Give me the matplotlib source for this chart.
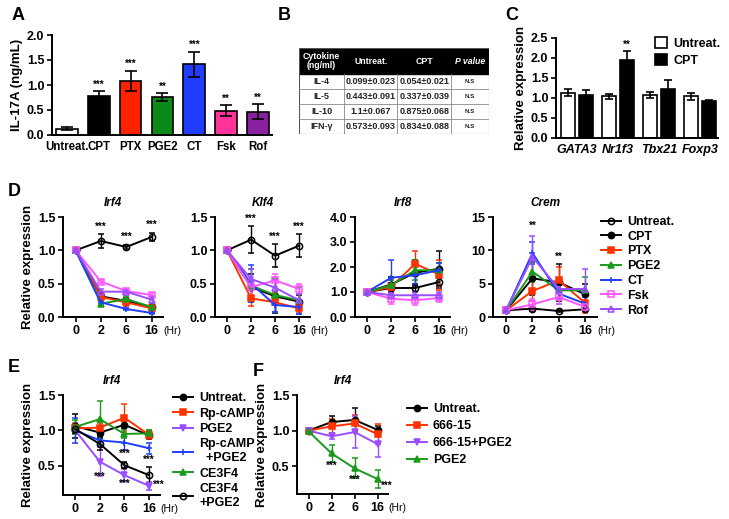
import numpy as np
import matplotlib
matplotlib.use('Agg')
import matplotlib.pyplot as plt
from matplotlib.lines import Line2D
from matplotlib.patches import Rectangle

plt.rcParams['font.family'] = ['Liberation Sans', 'DejaVu Sans']
plt.rcParams['font.weight'] = 'bold'
plt.rcParams['axes.labelweight'] = 'bold'
plt.rcParams['axes.titleweight'] = 'bold'
plt.rcParams['axes.linewidth'] = 1.4
plt.rcParams['xtick.major.width'] = 1.2
plt.rcParams['ytick.major.width'] = 1.2
plt.rcParams['xtick.major.size'] = 3.5
plt.rcParams['ytick.major.size'] = 3.5

W, H = 729, 519

# ---- panel A data
a_groups = ['Untreat.', 'CPT', 'PTX', 'PGE2', 'CT', 'Fsk', 'Rof']
a_mean = [0.12, 0.78, 1.08, 0.75, 1.41, 0.48, 0.46]
a_err = [0.03, 0.09, 0.20, 0.08, 0.25, 0.11, 0.15]
a_stars = ['', '***', '***', '**', '***', '**', '**']
a_colors = ['white', 'black', '#ff2200', '#0b8a1a', '#1f3cff', '#ff3399', '#8a1fa0']

# ---- panel B table
b_header = ['Cytokine\n(ng/ml)', 'Untreat.', 'CPT', 'P value']
b_cyto = ['IL-4', 'IL-5', 'IL-10', 'IFN-γ']
b_untreat = ['0.099±0.023', '0.443±0.091', '1.1±0.067', '0.573±0.093']
b_cpt = ['0.054±0.021', '0.337±0.039', '0.875±0.068', '0.834±0.088']
b_p = ['N.S', 'N.S', 'N.S', 'N.S']

# ---- panel C data
c_genes = ['GATA3', 'Nr1f3', 'Tbx21', 'Foxp3']
c_untreat = [1.13, 1.04, 1.07, 1.04]
c_untreat_err = [0.09, 0.07, 0.07, 0.08]
c_cpt = [1.08, 1.95, 1.22, 0.92]
c_cpt_err = [0.11, 0.22, 0.24, 0.04]

# ---- panel D data (time course)
hours = ['0', '2', '6', '16']
d_groups = ['Untreat.', 'CPT', 'PTX', 'PGE2', 'CT', 'Fsk', 'Rof']
d_colors = ['black', 'black', '#ff3300', '#1a9a1a', '#1f3fff', '#ff55ff', '#9a4dff']
d_markers = ['o', 'o', 's', '^', '+', 's', '^']
d_filled = [False, True, True, True, True, False, False]

irf4_mean = [[1, 1.14, 1.05, 1.20], [1, 0.31, 0.24, 0.15], [1, 0.30, 0.22, 0.13],
             [1, 0.20, 0.27, 0.15], [1, 0.22, 0.12, 0.06], [1, 0.53, 0.39, 0.33],
             [1, 0.38, 0.38, 0.26]]
irf4_err = [[0, 0.10, 0.03, 0.06], [0, 0.05, 0.05, 0.06], [0, 0.04, 0.05, 0.05],
            [0, 0.04, 0.05, 0.04], [0, 0.03, 0.02, 0.02], [0, 0.02, 0.03, 0.03],
            [0, 0.04, 0.03, 0.05]]
klf4_mean = [[1, 1.16, 0.92, 1.07], [1, 0.45, 0.31, 0.23], [1, 0.28, 0.22, 0.13],
             [1, 0.47, 0.33, 0.25], [1, 0.50, 0.18, 0.15], [1, 0.45, 0.55, 0.42],
             [1, 0.57, 0.44, 0.25]]
klf4_err = [[0, 0.20, 0.17, 0.17], [0, 0.20, 0.25, 0.10], [0, 0.12, 0.15, 0.05],
            [0, 0.25, 0.25, 0.20], [0, 0.28, 0.10, 0.10], [0, 0.15, 0.10, 0.08],
            [0, 0.15, 0.12, 0.10]]
irf8_mean = [[1, 1.16, 1.16, 1.40], [1, 1.30, 1.77, 1.93], [1, 1.20, 2.13, 1.70],
             [1, 1.27, 1.87, 1.87], [1, 1.57, 1.67, 1.87], [1, 0.73, 0.67, 0.76],
             [1, 0.87, 0.87, 0.87]]
irf8_err = [[0, 0.20, 0.15, 0.25], [0, 0.30, 0.50, 0.70], [0, 0.30, 0.50, 0.60],
            [0, 0.20, 0.40, 0.30], [0, 0.70, 0.40, 0.30], [0, 0.20, 0.20, 0.15],
            [0, 0.15, 0.15, 0.15]]
crem_mean = [[1, 1.26, 0.90, 1.15], [1, 5.8, 5.2, 3.4], [1, 3.9, 5.5, 2.1],
             [1, 6.8, 4.0, 4.0], [1, 9.6, 3.5, 2.0], [1, 1.9, 3.0, 1.5],
             [1, 9.0, 4.2, 4.2]]
crem_err = [[0.1, 0.3, 0.2, 0.3], [0.1, 2.5, 2.8, 1.5], [0.1, 1.5, 2.0, 1.5],
            [0.1, 1.5, 1.5, 2.0], [0.1, 1.7, 1.5, 1.0], [0.1, 0.8, 1.0, 0.5],
            [0.1, 3.2, 1.5, 3.0]]

# ---- panel E data
e_groups = ['Untreat.', 'Rp-cAMP', 'PGE2', 'Rp-cAMP\n  +PGE2', 'CE3F4', 'CE3F4\n+PGE2']
e_colors = ['black', '#ff3300', '#9a4dff', '#1f3fff', '#1a9a1a', 'black']
e_markers = ['o', 's', 'v', '+', '^', 'o']
e_filled = [True, True, True, True, True, False]
e_mean = [[1.06, 0.97, 1.08, 0.93], [1.03, 1.04, 1.18, 0.94], [1.00, 0.56, 0.37, 0.22],
          [1.00, 0.86, 0.83, 0.75], [1.05, 1.16, 0.95, 0.96], [1.02, 0.81, 0.51, 0.37]]
e_err = [[0.17, 0.05, 0.05, 0.05], [0.08, 0.06, 0.20, 0.06], [0.05, 0.20, 0.08, 0.06],
         [0.17, 0.06, 0.10, 0.08], [0.10, 0.25, 0.05, 0.05], [0.05, 0.08, 0.04, 0.12]]

# ---- panel F data
f_groups = ['Untreat.', '666-15', '666-15+PGE2', 'PGE2']
f_colors = ['black', '#ff3300', '#9a4dff', '#1a9a1a']
f_markers = ['o', 's', 'v', '^']
f_mean = [[1.00, 1.12, 1.15, 1.01], [1.00, 1.06, 1.10, 0.95],
          [1.00, 0.92, 0.98, 0.81], [0.99, 0.68, 0.47, 0.32]]
f_err = [[0.02, 0.08, 0.17, 0.05], [0.02, 0.10, 0.12, 0.14],
         [0.02, 0.04, 0.22, 0.18], [0.02, 0.12, 0.14, 0.13]]

fig = plt.figure(figsize=(W / 100, H / 100), dpi=100)


def px_axes(x0, x1, ytop, ybot):
    return fig.add_axes([x0 / W, 1 - ybot / H, (x1 - x0) / W, (ybot - ytop) / H])


def clean(ax):
    ax.spines['top'].set_visible(False)
    ax.spines['right'].set_visible(False)
    ax.tick_params(labelsize=9, pad=2)


def time_course(ax, means, errs, colors, markers, filled, labels):
    x = np.arange(4)
    handles = []
    for m, e, c, mk, f, lab in zip(means, errs, colors, markers, filled, labels):
        fc = c if f else 'none'
        ax.errorbar(x, m, yerr=e, color=c, marker=mk, markersize=4.5,
                    mfc=fc, mec=c, mew=1.1, lw=1.4,
                    capsize=2.5, elinewidth=1, capthick=1)
        handles.append(Line2D([], [], color=c, marker=mk, markersize=4.5, mfc=fc,
                              mec=c, mew=1.1, lw=1.4, label=lab))
    ax.set_xticks(x)
    ax.set_xticklabels(hours)
    ax.set_xlim(-0.5, 3.45)
    return handles


def hr_label(ax):
    ax.text(1.0, -0.09, '(Hr)', transform=ax.transAxes, fontsize=7.5,
            fontweight='normal', ha='left', va='top')


# ---------------- A
ax = px_axes(52, 272, 35, 135)
clean(ax)
xa = np.arange(len(a_groups))
ax.bar(xa, a_mean, width=0.68, color=a_colors, edgecolor='black', linewidth=1.2,
       yerr=a_err, error_kw=dict(capsize=4, elinewidth=1.2, capthick=1.2), zorder=2)
for i, s in enumerate(a_stars):
    if s:
        ax.text(i, a_mean[i] + a_err[i] + 0.04, s, ha='center', va='bottom', fontsize=7)
ax.set_xlim(-0.47, 6.44)
ax.set_ylim(0, 2.0)
ax.set_yticks([0, 0.5, 1.0, 1.5, 2.0])
ax.set_yticklabels(['0.0', '0.5', '1.0', '1.5', '2.0'])
ax.set_xticks(xa)
ax.set_xticklabels(a_groups, fontsize=8.3)
ax.tick_params(axis='x', length=0, pad=4)
ax.set_ylabel('IL-17A (ng/mL)', fontsize=9.5, labelpad=3)
fig.text(12 / W, 1 - 16 / H, 'A', fontsize=13, va='center')

# ---------------- B table
tb = px_axes(299, 489, 48, 134)
tb.set_xlim(0, 1)
tb.set_ylim(0, 1)
tb.axis('off')
cols = [0, 45 / 190, 98.4 / 190, 152.4 / 190, 1]
head_h = 26 / 86
row_h = (1 - head_h) / 4
tb.add_patch(Rectangle((0, 1 - head_h), 1, head_h, color='black'))
tb.add_patch(Rectangle((0, 0), 1, 1, fill=False, edgecolor='#555555', lw=0.8))
for k in range(1, 4):
    tb.plot([cols[k], cols[k]], [0, 1 - head_h], color='#888888', lw=0.6)
for r in range(1, 4):
    tb.plot([0, 1], [r * row_h, r * row_h], color='#888888', lw=0.6)
for k, h in enumerate(b_header):
    style = 'italic' if h == 'P value' else 'normal'
    tb.text((cols[k] + cols[k + 1]) / 2, 1 - head_h / 2, h, color='white',
            ha='center', va='center', fontsize=6.3, style=style, linespacing=1.1)
for r in range(4):
    yc = 1 - head_h - (r + 0.5) * row_h
    for k, val in enumerate([b_cyto[r], b_untreat[r], b_cpt[r], b_p[r]]):
        tb.text((cols[k] + cols[k + 1]) / 2, yc, val, ha='center', va='center',
                fontsize=4.5 if k == 3 else 6.5, color='#222222')
fig.text(278 / W, 1 - 16 / H, 'B', fontsize=13, va='center')

# ---------------- C
ax = px_axes(556, 718, 38, 138)
clean(ax)
xc = np.arange(len(c_genes))
ax.bar(xc - 0.22, c_untreat, width=0.34, color='white', edgecolor='black', lw=1.2,
       yerr=c_untreat_err, error_kw=dict(capsize=3, elinewidth=1.2, capthick=1.2),
       label='Untreat.')
ax.bar(xc + 0.22, c_cpt, width=0.34, color='black', edgecolor='black', lw=1.2,
       yerr=c_cpt_err, error_kw=dict(capsize=3, elinewidth=1.2, capthick=1.2),
       label='CPT')
ax.text(1 + 0.22, c_cpt[1] + c_cpt_err[1] + 0.03, '**', ha='center', va='bottom', fontsize=7)
ax.set_ylim(0, 2.5)
ax.set_xlim(-0.51, 3.43)
ax.set_yticks([0, 0.5, 1.0, 1.5, 2.0, 2.5])
ax.set_yticklabels(['0.0', '0.5', '1.0', '1.5', '2.0', '2.5'])
ax.set_xticks(xc)
ax.set_xticklabels(c_genes, style='italic')
ax.tick_params(axis='x', length=0, pad=4)
ax.set_ylabel('Relative expression', fontsize=9.5, labelpad=3)
ax.legend(loc='upper left', bbox_to_anchor=(0.58, 1.06), frameon=False, fontsize=9,
          handlelength=1.0, handleheight=1.0, labelspacing=0.3, handletextpad=0.5,
          borderaxespad=0)
fig.text(505 / W, 1 - 16 / H, 'C', fontsize=13, va='center')

# ---------------- D
d_specs = [
    ('Irf4', irf4_mean, irf4_err, 63, 163, (0, 1.5), [0, 0.5, 1.0, 1.5], ['0.0', '0.5', '1.0', '1.5']),
    ('Klf4', klf4_mean, klf4_err, 215, 310, (0, 1.5), [0, 0.5, 1.0, 1.5], ['0.0', '0.5', '1.0', '1.5']),
    ('Irf8', irf8_mean, irf8_err, 355, 450, (0, 4.0), [0, 1, 2, 3, 4], ['0.0', '1.0', '2.0', '3.0', '4.0']),
    ('Crem', crem_mean, crem_err, 493, 597, (0, 15), [0, 5, 10, 15], ['0', '5', '10', '15']),
]
d_axes = []
for name, mean, err, x0, x1, ylim, yt, ytl in d_specs:
    ax = px_axes(x0, x1, 217, 317)
    clean(ax)
    d_handles = time_course(ax, mean, err, d_colors, d_markers, d_filled, d_groups)
    ax.set_ylim(*ylim)
    ax.set_yticks(yt)
    ax.set_yticklabels(ytl)
    ax.set_title(name, style='italic', fontsize=8.5, pad=8)
    hr_label(ax)
    d_axes.append(ax)
d_axes[0].set_ylabel('Relative expression', fontsize=9.5, labelpad=3)

# significance marks in D
for t in [1, 2, 3]:
    top = irf4_mean[0][t] + irf4_err[0][t]
    d_axes[0].text(t, top + 0.04, '***', ha='center', va='bottom', fontsize=7)
    top = klf4_mean[0][t] + klf4_err[0][t]
    d_axes[1].text(t, top + 0.04, '***', ha='center', va='bottom', fontsize=7)
d_axes[3].text(1, 12.9, '**', ha='center', va='bottom', fontsize=7)
d_axes[3].text(2, 8.2, '**', ha='center', va='bottom', fontsize=7)
d_axes[3].legend(handles=d_handles, loc='upper left', bbox_to_anchor=(0.99, 1.06),
                 frameon=False, fontsize=9, handlelength=1.6, labelspacing=0.22,
                 handletextpad=0.5, borderaxespad=0)
fig.text(8 / W, 1 - 192 / H, 'D', fontsize=13, va='center')

# ---------------- E
ax = px_axes(63, 160, 395, 495)
clean(ax)
e_handles = time_course(ax, e_mean, e_err, e_colors, e_markers, e_filled, e_groups)
ax.set_ylim(0.09, 1.5)
ax.set_yticks([0.5, 1.0, 1.5])
ax.set_yticklabels(['0.5', '1.0', '1.5'])
ax.set_title('Irf4', style='italic', fontsize=8.5, pad=8)
ax.set_ylabel('Relative expression', fontsize=9.5, labelpad=3)
hr_label(ax)
ax.text(2, 0.60, '***', ha='center', va='bottom', fontsize=7)
ax.text(3, 0.52, '***', ha='center', va='bottom', fontsize=7)
ax.text(1, 0.28, '***', ha='center', va='bottom', fontsize=7)
ax.text(2, 0.18, '***', ha='center', va='bottom', fontsize=7)
ax.text(3.15, 0.16, '***', ha='left', va='bottom', fontsize=7)
ax.legend(handles=e_handles, loc='upper left', bbox_to_anchor=(1.08, 1.08),
          frameon=False, fontsize=9, handlelength=1.6, labelspacing=0.28,
          handletextpad=0.5, borderaxespad=0)
fig.text(8 / W, 1 - 367 / H, 'E', fontsize=13, va='center')

# ---------------- F
ax = px_axes(297, 388, 395, 494)
clean(ax)
f_handles = time_course(ax, f_mean, f_err, f_colors, f_markers, [True] * 4, f_groups)
ax.set_ylim(0.11, 1.5)
ax.set_yticks([0.5, 1.0, 1.5])
ax.set_yticklabels(['0.5', '1.0', '1.5'])
ax.set_title('Irf4', style='italic', fontsize=8.5, pad=8)
ax.set_ylabel('Relative expression', fontsize=9.5, labelpad=3)
hr_label(ax)
ax.text(1, 0.44, '***', ha='center', va='bottom', fontsize=7)
ax.text(2, 0.24, '***', ha='center', va='bottom', fontsize=7)
ax.text(3.15, 0.16, '***', ha='left', va='bottom', fontsize=7)
ax.legend(handles=f_handles, loc='upper left', bbox_to_anchor=(1.15, 0.97),
          frameon=False, fontsize=9, handlelength=1.6, labelspacing=0.4,
          handletextpad=0.5, borderaxespad=0)
fig.text(253 / W, 1 - 372 / H, 'F', fontsize=13, va='center')

fig.savefig('out.png', dpi=100)
